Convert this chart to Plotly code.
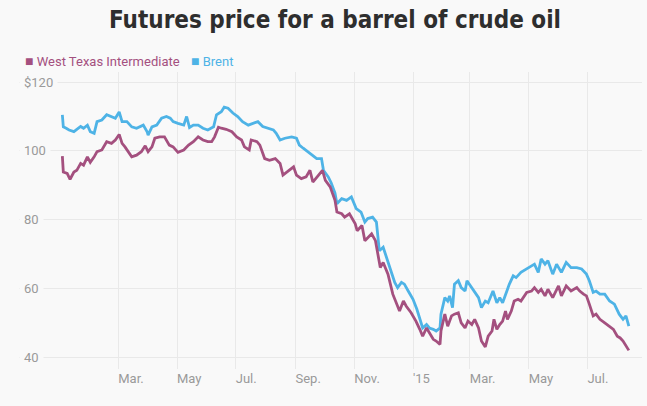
import plotly.graph_objects as go

# ---- data ----
brent_dates = [
    "2014-01-02", "2014-01-03", "2014-01-06", "2014-01-09", "2014-01-14", "2014-01-21", "2014-01-24",
    "2014-01-28", "2014-01-31", "2014-02-04", "2014-02-07", "2014-02-12", "2014-02-17", "2014-02-22",
    "2014-02-26", "2014-03-02", "2014-03-05", "2014-03-10", "2014-03-15", "2014-03-20", "2014-03-27",
    "2014-03-31", "2014-04-01", "2014-04-05", "2014-04-10", "2014-04-15", "2014-04-20", "2014-04-24",
    "2014-04-27", "2014-05-02", "2014-05-08", "2014-05-11", "2014-05-14", "2014-05-18", "2014-05-23",
    "2014-05-28", "2014-06-02", "2014-06-08", "2014-06-11", "2014-06-16", "2014-06-19", "2014-06-23",
    "2014-06-28", "2014-07-03", "2014-07-08", "2014-07-14", "2014-07-19", "2014-07-24", "2014-07-29",
    "2014-08-04", "2014-08-09", "2014-08-12", "2014-08-16", "2014-08-21", "2014-08-28", "2014-09-02",
    "2014-09-05", "2014-09-09", "2014-09-14", "2014-09-18", "2014-09-23", "2014-09-28", "2014-09-30",
    "2014-10-05", "2014-10-08", "2014-10-12", "2014-10-14", "2014-10-19", "2014-10-24", "2014-10-29",
    "2014-11-03", "2014-11-08", "2014-11-12", "2014-11-15", "2014-11-20", "2014-11-24", "2014-11-27",
    "2014-12-01", "2014-12-06", "2014-12-09", "2014-12-13", "2014-12-16", "2014-12-20", "2014-12-23",
    "2014-12-27", "2015-01-01", "2015-01-05", "2015-01-08", "2015-01-11", "2015-01-15", "2015-01-18",
    "2015-01-22", "2015-01-25", "2015-01-29", "2015-01-30", "2015-02-03", "2015-02-06", "2015-02-08",
    "2015-02-11", "2015-02-13", "2015-02-17", "2015-02-20", "2015-02-24", "2015-02-26", "2015-03-03",
    "2015-03-06", "2015-03-10", "2015-03-13", "2015-03-17", "2015-03-20", "2015-03-25", "2015-03-29",
    "2015-04-01", "2015-04-04", "2015-04-08", "2015-04-11", "2015-04-15", "2015-04-18", "2015-04-23",
    "2015-04-29", "2015-05-04", "2015-05-07", "2015-05-11", "2015-05-14", "2015-05-18", "2015-05-21",
    "2015-05-26", "2015-05-30", "2015-06-04", "2015-06-09", "2015-06-14", "2015-06-20", "2015-06-25",
    "2015-06-30", "2015-07-03", "2015-07-07", "2015-07-10", "2015-07-14", "2015-07-19", "2015-07-24",
    "2015-07-29", "2015-08-03", "2015-08-07", "2015-08-10", "2015-08-13",
]
brent_values = [
    110.5, 107.0, 106.6, 106.1, 105.6, 107.1, 106.6,
    107.5, 105.6, 105.1, 108.5, 109.0, 110.5, 110.0,
    109.5, 111.3, 108.5, 108.5, 107.0, 106.6, 107.5,
    105.6, 104.6, 107.0, 107.5, 109.5, 110.0, 109.5,
    108.5, 108.0, 107.5, 110.0, 106.8, 107.5, 107.5,
    106.6, 106.1, 107.0, 110.5, 111.4, 112.7, 112.4,
    111.0, 110.0, 108.5, 107.5, 108.0, 108.5, 107.1,
    106.6, 106.1, 105.1, 103.2, 103.7, 104.1, 103.7,
    101.7, 100.8, 99.8, 98.8, 97.8, 97.8, 94.4,
    92.5, 90.8, 87.8, 84.7, 86.2, 85.7, 86.7,
    83.3, 82.3, 79.4, 80.4, 80.8, 79.4, 71.1,
    72.1, 68.2, 65.3, 61.9, 60.4, 61.9, 61.4,
    59.4, 57.0, 54.1, 51.7, 48.7, 49.7, 48.7,
    48.3, 47.8, 48.7, 52.7, 57.5, 56.5, 58.0,
    54.6, 61.4, 62.4, 60.4, 59.4, 62.4, 60.4,
    59.4, 57.5, 54.6, 56.5, 56.0, 59.4, 56.0,
    57.5, 56.0, 59.4, 61.4, 63.8, 63.3, 64.8,
    65.8, 66.7, 67.2, 64.8, 68.7, 67.2, 68.2,
    64.3, 67.2, 64.8, 67.7, 66.2, 66.2, 65.8,
    64.3, 62.4, 59.0, 59.4, 58.5, 58.5, 56.5,
    55.6, 52.7, 51.2, 52.2, 49.2,
]

wti_dates = [
    "2014-01-02", "2014-01-03", "2014-01-07", "2014-01-10", "2014-01-14", "2014-01-17", "2014-01-21",
    "2014-01-24", "2014-01-28", "2014-01-31", "2014-02-04", "2014-02-07", "2014-02-12", "2014-02-17",
    "2014-02-22", "2014-02-26", "2014-03-02", "2014-03-05", "2014-03-08", "2014-03-12", "2014-03-15",
    "2014-03-20", "2014-03-25", "2014-03-29", "2014-04-01", "2014-04-05", "2014-04-08", "2014-04-13",
    "2014-04-18", "2014-04-23", "2014-04-27", "2014-05-02", "2014-05-08", "2014-05-13", "2014-05-18",
    "2014-05-23", "2014-05-28", "2014-06-02", "2014-06-06", "2014-06-09", "2014-06-13", "2014-06-16",
    "2014-06-21", "2014-06-27", "2014-07-02", "2014-07-07", "2014-07-10", "2014-07-15", "2014-07-17",
    "2014-07-23", "2014-07-26", "2014-07-31", "2014-08-05", "2014-08-11", "2014-08-16", "2014-08-19",
    "2014-08-23", "2014-08-30", "2014-09-02", "2014-09-07", "2014-09-12", "2014-09-16", "2014-09-19",
    "2014-09-25", "2014-09-29", "2014-10-02", "2014-10-07", "2014-10-12", "2014-10-14", "2014-10-19",
    "2014-10-22", "2014-10-27", "2014-11-02", "2014-11-04", "2014-11-09", "2014-11-12", "2014-11-15",
    "2014-11-19", "2014-11-23", "2014-11-28", "2014-12-01", "2014-12-06", "2014-12-11", "2014-12-15",
    "2014-12-18", "2014-12-22", "2014-12-25", "2014-12-30", "2015-01-04", "2015-01-08", "2015-01-11",
    "2015-01-15", "2015-01-18", "2015-01-22", "2015-01-25", "2015-01-29", "2015-01-30", "2015-02-03",
    "2015-02-06", "2015-02-10", "2015-02-13", "2015-02-17", "2015-02-20", "2015-02-24", "2015-02-27",
    "2015-03-03", "2015-03-06", "2015-03-10", "2015-03-13", "2015-03-17", "2015-03-20", "2015-03-24",
    "2015-03-26", "2015-03-29", "2015-04-01", "2015-04-04", "2015-04-07", "2015-04-09", "2015-04-13",
    "2015-04-16", "2015-04-20", "2015-04-23", "2015-04-29", "2015-05-04", "2015-05-07", "2015-05-11",
    "2015-05-14", "2015-05-18", "2015-05-21", "2015-05-26", "2015-06-01", "2015-06-04", "2015-06-09",
    "2015-06-14", "2015-06-20", "2015-06-23", "2015-06-27", "2015-06-30", "2015-07-03", "2015-07-07",
    "2015-07-10", "2015-07-14", "2015-07-19", "2015-07-24", "2015-07-28", "2015-08-01", "2015-08-04",
    "2015-08-07", "2015-08-10", "2015-08-13",
]
wti_values = [
    98.5, 93.9, 93.5, 91.8, 93.9, 94.4, 96.4,
    95.9, 98.3, 96.7, 98.3, 99.8, 100.3, 102.7,
    102.2, 103.2, 104.8, 102.2, 101.2, 99.3, 98.3,
    98.8, 99.8, 101.5, 99.8, 101.2, 103.7, 104.1,
    104.1, 101.7, 101.2, 99.6, 100.3, 101.7, 102.7,
    104.1, 103.2, 102.7, 102.7, 104.1, 106.9, 106.6,
    106.3, 105.6, 104.1, 103.2, 101.2, 100.3, 103.2,
    102.7, 101.7, 97.8, 97.3, 97.8, 96.4, 93.0,
    93.9, 95.4, 93.0, 92.0, 92.5, 94.4, 91.0,
    93.0, 94.4, 91.5, 89.6, 85.7, 82.3, 81.8,
    80.8, 81.8, 78.9, 76.9, 78.4, 74.0, 75.0,
    76.0, 74.0, 66.2, 67.7, 64.3, 58.5, 55.6,
    53.6, 56.5, 55.0, 53.1, 50.7, 48.3, 46.3,
    48.7, 47.3, 45.4, 44.9, 43.9, 47.8, 52.7,
    49.2, 52.2, 52.7, 53.1, 50.2, 48.7, 50.7,
    49.7, 51.2, 48.7, 44.9, 43.2, 46.3, 47.8,
    51.2, 48.3, 49.7, 50.7, 53.6, 51.2, 53.6,
    56.5, 57.0, 56.5, 59.0, 59.4, 60.4, 59.0,
    59.9, 58.0, 59.9, 57.5, 60.9, 58.0, 60.9,
    59.4, 60.4, 59.4, 58.5, 58.0, 55.6, 52.2,
    52.7, 51.2, 50.2, 49.2, 48.3, 46.3, 45.8,
    44.9, 43.4, 42.2,
]

tick_dates = ["2014-03-01", "2014-05-01", "2014-07-01", "2014-09-01", "2014-11-01",
              "2015-01-01", "2015-03-01", "2015-05-01", "2015-07-01"]
tick_labels = ["Mar.", "May", "Jul.", "Sep.", "Nov.", "'15", "Mar.", "May", "Jul."]
y_ticks = [40, 60, 80, 100, 120]
y_labels = ["40", "60", "80", "100", "$120"]

series_names = ["West Texas Intermediate", "Brent"]
series_colors = ["#A4507F", "#4EB3E6"]

BG = "#f9f9f9"
TITLE_FONT = "DejaVu Sans Condensed, Lato, sans-serif"
FONT = "Roboto, sans-serif"
GRID = "#e9e9e9"
TICK_COLOR = "#9a9a9a"

fig = go.Figure()
fig.add_trace(go.Scatter(x=brent_dates, y=brent_values, mode="lines", name=series_names[1],
                         line=dict(color=series_colors[1], width=2.8), showlegend=False))
fig.add_trace(go.Scatter(x=wti_dates, y=wti_values, mode="lines", name=series_names[0],
                         line=dict(color=series_colors[0], width=2.8), showlegend=False))

annotations = []
for v, t in zip(y_ticks, y_labels):
    annotations.append(dict(x=0, xref="paper", y=v, yref="y", text=t, showarrow=False,
                            xanchor="left", yanchor="middle", bgcolor=BG, borderpad=4,
                            font=dict(family=FONT, size=13, color=TICK_COLOR)))

legend_x = [0.0064, 0.273]
for name, color, lx in zip(series_names, series_colors, legend_x):
    annotations.append(dict(x=lx, xref="paper", y=1.037, yref="paper",
                            text=f"<span style='font-size:14px'>■</span> {name}", showarrow=False,
                            xanchor="left", yanchor="middle",
                            font=dict(family=FONT, size=13, color=color)))

fig.update_layout(
    width=647, height=406,
    paper_bgcolor=BG, plot_bgcolor=BG,
    margin=dict(l=19, r=5, t=72, b=37),
    title=dict(text="Futures price for a barrel of crude oil", x=335 / 647, xanchor="center",
               y=1 - 20 / 406, yanchor="middle",
               font=dict(family=TITLE_FONT, size=24, color="#2e2e2e", weight="bold")),
    xaxis=dict(type="date", range=["2013-11-18", "2015-08-26 16:00"],
               tickvals=tick_dates, ticktext=tick_labels, ticklabelposition="outside right",
               showgrid=True, gridcolor=GRID, gridwidth=1, zeroline=False, showline=False,
               ticks="", tickfont=dict(family=FONT, size=13, color=TICK_COLOR)),
    yaxis=dict(range=[36.8, 122.9], tickvals=y_ticks, showticklabels=False,
               showgrid=True, gridcolor=GRID, gridwidth=1, zeroline=False, showline=False, ticks=""),
    annotations=annotations,
    showlegend=False,
)

fig.write_html("out.html", config={"displayModeBar": False},
               post_script="document.body.style.margin='0';document.body.style.background='#f9f9f9';")
